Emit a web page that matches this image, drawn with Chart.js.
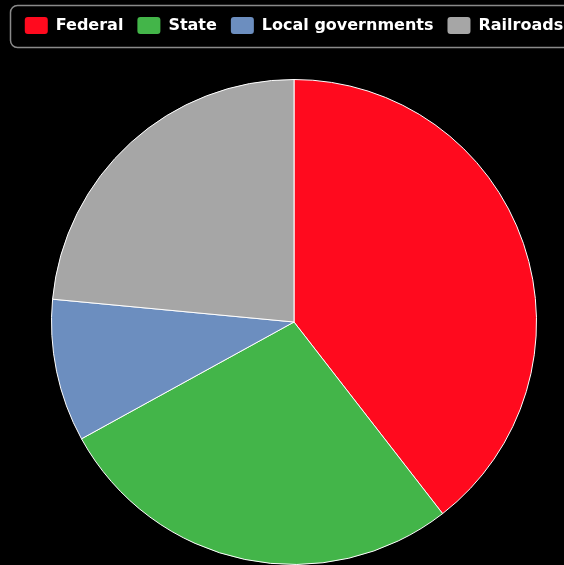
<!DOCTYPE html>
<html>
<head>
<meta charset="utf-8">
<script src="https://cdn.jsdelivr.net/npm/chart.js@4/dist/chart.umd.min.js"></script>
<style>
  html, body { margin: 0; padding: 0; background: #000; overflow: hidden; }
  #wrap { width: 588px; height: 565px; }
</style>
</head>
<body>
<div id="wrap"><canvas id="myChart" width="588" height="565"></canvas></div>
<script>
var labels = ['Federal', 'State', 'Local governments', 'Railroads'];
var shares = [39.5, 27.5, 9.5, 23.5];
var colors = ['#ff0a1e', '#43b549', '#6c8ebf', '#a6a6a6'];

// stretch the legend block so the pie starts lower down
var legendHeight = {
    id: 'legendHeight',
    beforeInit: function(chart){
        var fit = chart.legend.fit;
        chart.legend.fit = function(){
            fit.bind(chart.legend)();
            this.height = 76;
        };
    }
};

// rounded frame round the legend
var legendFrame = {
    id: 'legendFrame',
    afterDraw: function(chart){
        var c = chart.ctx;
        c.save();
        c.strokeStyle = '#8a8a8a';
        c.lineWidth = 1.5;
        c.beginPath();
        c.roundRect(10.5, 5.5, 567, 42, 7);
        c.stroke();
        c.restore();
    }
};

var ctx = document.getElementById('myChart').getContext('2d');
var chart = new Chart(ctx, {
    type: 'pie',
    data: {
        labels: labels,
        datasets: [{
            data: shares,
            backgroundColor: colors,
            borderColor: '#ffffff',
            borderWidth: 1
        }]
    },
    options: {
        responsive: false,
        animation: false,
        layout: { padding: { top: 3 } },
        plugins: {
            legend: {
                position: 'top',
                labels: {
                    color: '#ffffff',
                    boxWidth: 23,
                    boxHeight: 17,
                    padding: 14,
                    useBorderRadius: true,
                    borderRadius: 3,
                    font: { family: 'DejaVu Sans', size: 16, weight: 'bold' },
                    generateLabels: function(chart){
                        var items = Chart.overrides.pie.plugins.legend.labels.generateLabels(chart);
                        items.forEach(function(it){
                            it.strokeStyle = it.fillStyle;
                            it.lineWidth = 0;
                        });
                        return items;
                    }
                }
            },
            tooltip: { enabled: false }
        }
    },
    plugins: [legendHeight, legendFrame]
});
</script>
</body>
</html>
